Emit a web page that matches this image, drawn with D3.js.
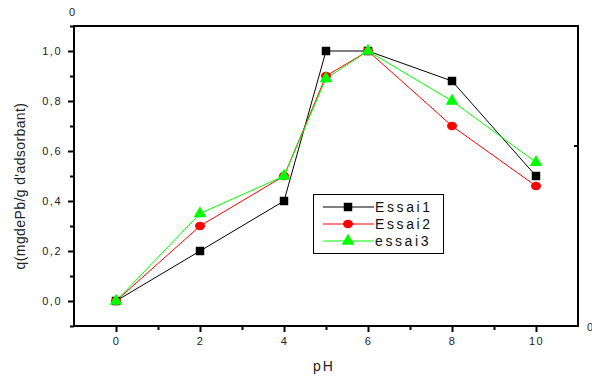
<!DOCTYPE html>
<html><head><meta charset="utf-8">
<script src="https://cdn.jsdelivr.net/npm/d3@7"></script>
<style>body{margin:0;background:#fff}svg{display:block;font-family:"Liberation Sans",Arial,sans-serif}</style>
</head><body><svg id="c" width="592" height="379"></svg>
<script>
const pH = [0, 2, 4, 5, 6, 8, 10];
const essai1 = [0, 0.2, 0.4, 1.0, 1.0, 0.88, 0.5];
const essai2 = [0, 0.3, 0.5, 0.9, 1.0, 0.7, 0.46];
const essai3 = [0, 0.35, 0.5, 0.89, 1.0, 0.8, 0.555];
const seriesNames = ["Essai1", "Essai2", "essai3"];
const xTicks = [0, 2, 4, 6, 8, 10];
const yTicks = [0, 0.2, 0.4, 0.6, 0.8, 1.0];

const svg = d3.select("#c");
const x = d3.scaleLinear().domain([-1, 11]).range([74, 578]);
const y = d3.scaleLinear().domain([-0.1, 1.1]).range([326, 26]);
const fmt = d => d3.format(".1f")(d).replace(".", ",");

// frame
svg.append("rect").attr("x", 74).attr("y", 26).attr("width", 504).attr("height", 300)
  .attr("fill", "none").attr("stroke", "#000").attr("stroke-width", 2);

// y axis
const ya = svg.append("g").attr("transform", "translate(74,0)")
  .call(d3.axisLeft(y).tickValues(yTicks).tickFormat(fmt).tickSize(6).tickPadding(6));
ya.select(".domain").remove();
ya.selectAll("line").attr("stroke-width", 2);
ya.selectAll("text").attr("font-size", 11).attr("letter-spacing", 1.5).attr("fill", "#222");
const ym = svg.append("g").attr("transform", "translate(74,0)")
  .call(d3.axisLeft(y).tickValues(d3.range(-0.1, 1.11, 0.2)).tickFormat("").tickSize(4));
ym.select(".domain").remove();
ym.selectAll("line").attr("stroke-width", 2);

// x axis
const xa = svg.append("g").attr("transform", "translate(0,326)")
  .call(d3.axisBottom(x).tickValues(xTicks).tickFormat(d3.format("d")).tickSize(6).tickPadding(5));
xa.select(".domain").remove();
xa.selectAll("line").attr("stroke-width", 2);
xa.selectAll("text").attr("font-size", 11).attr("letter-spacing", 1.5).attr("fill", "#222");
const xm = svg.append("g").attr("transform", "translate(0,326)")
  .call(d3.axisBottom(x).tickValues([1, 3, 5, 7, 9]).tickFormat("").tickSize(4));
xm.select(".domain").remove();
xm.selectAll("line").attr("stroke-width", 2);

// stray ticks/labels from original
svg.append("line").attr("x1", 574).attr("x2", 578).attr("y1", y(0.62)).attr("y2", y(0.62)).attr("stroke", "#000").attr("stroke-width", 2);
svg.append("line").attr("x1", 570).attr("x2", 578).attr("y1", 326).attr("y2", 326).attr("stroke", "#000").attr("stroke-width", 2);
svg.append("text").attr("x", 72).attr("y", 16).attr("text-anchor", "middle").attr("font-size", 11).attr("fill", "#222").text("0");
svg.append("text").attr("x", 587).attr("y", 331).attr("font-size", 11).attr("fill", "#222").text("0");

// labels
svg.append("text").attr("transform", "translate(25,186) rotate(-90)").attr("text-anchor", "middle")
  .attr("font-size", 14).attr("letter-spacing", 0.4).attr("fill", "#222").text("q(mgdePb/g d'adsorbant)");
svg.append("text").attr("x", 324).attr("y", 371).attr("text-anchor", "middle")
  .attr("font-size", 14).attr("letter-spacing", 2).attr("fill", "#222").text("pH");

const series = [
  {name: seriesNames[0], vals: essai1, color: "#000", sym: d3.symbolSquare, size: 72},
  {name: seriesNames[1], vals: essai2, color: "#ff0000", sym: "ellipse", size: 0},
  {name: seriesNames[2], vals: essai3, color: "#00ff00", sym: d3.symbolTriangle, size: 70}
];
const line = d3.line().x((d, i) => x(pH[i])).y(d => y(d));
function marker(g, s, cx, cy) {
  if (s.sym === "ellipse") {
    g.append("ellipse").attr("cx", cx).attr("cy", cy).attr("rx", 5).attr("ry", 4.2).attr("fill", s.color);
  } else {
    g.append("path").attr("d", d3.symbol(s.sym, s.size)()).attr("transform", `translate(${cx},${cy})`).attr("fill", s.color);
  }
}
series.forEach(s => {
  svg.append("path").datum(s.vals).attr("d", line).attr("fill", "none").attr("stroke", s.color).attr("stroke-width", 1);
});
series.forEach(s => {
  const g = svg.append("g");
  s.vals.forEach((v, i) => marker(g, s, x(pH[i]), y(v)));
});

// legend
svg.append("rect").attr("x", 313.5).attr("y", 194.5).attr("width", 130).attr("height", 59)
  .attr("fill", "#fff").attr("stroke", "#000").attr("stroke-width", 1);
const ly = [207, 224, 241];
series.forEach((s, i) => {
  const g = svg.append("g");
  g.append("line").attr("x1", 323).attr("x2", 374).attr("y1", ly[i]).attr("y2", ly[i]).attr("stroke", s.color).attr("stroke-width", 1);
  marker(g, s, 348, ly[i]);
  g.append("text").attr("x", 375).attr("y", ly[i] + 5).attr("font-size", 14).attr("letter-spacing", 2.6).attr("fill", "#111").text(s.name);
});
</script></body></html>
